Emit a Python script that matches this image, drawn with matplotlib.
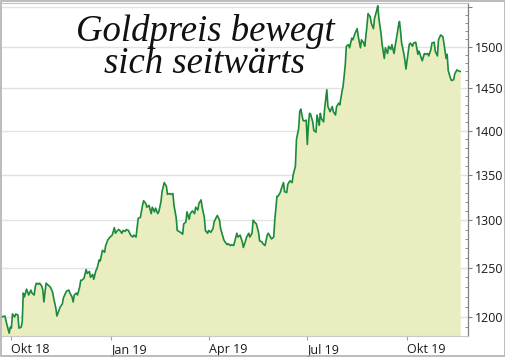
import datetime as dt

import matplotlib

matplotlib.use("Agg")
import matplotlib.dates as mdates
import matplotlib.pyplot as plt
from matplotlib.patches import Rectangle
from matplotlib.ticker import FixedLocator, FuncFormatter, NullFormatter

# Goldpreis in USD, Tage ab dem 21.09.2018
start = dt.date(2018, 9, 21)
day_offsets = [
    1, 4, 6, 8, 9, 10, 11, 13, 14, 16, 17, 19, 20, 21, 22, 24, 25, 26, 28, 29,
    31, 32, 33, 35, 36, 38, 39, 40, 42, 44, 46, 48, 49, 51, 52, 53, 55, 57, 58, 60,
    61, 63, 64, 66, 67, 68, 70, 71, 73, 74, 75, 77, 79, 80, 82, 83, 85, 86, 88, 89,
    91, 92, 94, 96, 97, 99, 101, 103, 105, 106, 108, 109,
    110, 112, 113, 115, 116, 118, 120, 122, 123, 125, 127, 129, 131, 132, 134, 135,
    137, 139, 140, 142, 143, 145, 146, 148, 149, 151, 153, 154, 156, 157, 159, 160,
    162, 163, 166, 168, 169, 171, 172, 174, 175, 177, 179, 180, 182, 183, 185, 186,
    188, 189, 191, 192, 194, 196, 197, 199, 200, 202, 203, 206,
    207, 209, 210, 212, 213, 215, 216, 218, 219, 221, 223, 224, 226, 227, 229, 230,
    232, 233, 235, 236, 238, 239, 241, 242, 244, 246, 247, 249, 250, 252, 253, 255,
    256, 258, 259, 261, 262, 264, 265, 267, 269, 270, 272, 273, 275, 276, 277, 279,
    280, 282, 283, 284, 285, 286, 288, 289, 291, 292, 294, 295, 296, 298, 299, 301,
    302, 304, 306, 307, 309, 310, 312, 313,
    315, 316, 318, 319, 321, 322, 324, 325, 327, 329, 330, 332, 333, 335, 336, 338,
    339, 341, 342, 344, 345, 347, 348, 349, 351, 352, 354, 355, 357, 358, 360, 361,
    363, 364, 366, 367, 368, 369, 370, 372, 373, 374, 375, 377, 378, 380, 381, 383,
    385, 386, 388, 389, 391, 392, 394, 395, 397, 398, 400, 401, 403, 404, 406, 408,
    409, 411, 412, 413, 415, 416, 418, 419, 421, 422, 424,
]
gold_price = [
    1200, 1201, 1192, 1184, 1190, 1189, 1203, 1200, 1203, 1202, 1189, 1190, 1195, 1224, 1220, 1228, 1225, 1222, 1227, 1224,
    1222, 1230, 1234, 1233, 1234, 1231, 1227, 1215, 1234, 1232, 1230, 1225, 1219, 1209, 1201, 1204, 1210, 1213, 1219, 1224,
    1226, 1227, 1224, 1220, 1215, 1222, 1224, 1222, 1230, 1237, 1237, 1239, 1248, 1244, 1246, 1240, 1243, 1238, 1247, 1249,
    1258, 1257, 1268, 1266, 1273, 1279, 1282, 1284, 1292, 1286, 1289, 1290,
    1289, 1286, 1289, 1288, 1290, 1289, 1284, 1282, 1284, 1282, 1302, 1303, 1316, 1321, 1318, 1314,
    1316, 1307, 1314, 1309, 1313, 1307, 1309, 1320, 1331, 1341, 1337, 1328, 1329, 1328, 1329, 1316,
    1303, 1289, 1287, 1285, 1296, 1298, 1309, 1301, 1307, 1310, 1307, 1314, 1311, 1318, 1322, 1314,
    1303, 1289, 1286, 1289, 1287, 1291, 1298, 1303, 1305, 1300, 1291, 1279,
    1277, 1274, 1275, 1273, 1274, 1273, 1277, 1286, 1282, 1284, 1277, 1271, 1278, 1282, 1286, 1282,
    1286, 1300, 1297, 1296, 1287, 1278, 1277, 1275, 1273, 1284, 1286, 1282, 1280, 1282, 1300, 1326,
    1326, 1330, 1334, 1341, 1331, 1330, 1339, 1343, 1341, 1350, 1359, 1390, 1402, 1422, 1425, 1412,
    1411, 1412, 1384, 1406, 1420, 1419, 1410, 1400, 1398, 1418, 1406, 1420, 1414, 1410, 1426, 1448,
    1428, 1422, 1428, 1422, 1418, 1428, 1432, 1430,
    1446, 1452, 1478, 1501, 1503, 1499, 1511, 1509, 1517, 1523, 1513, 1499, 1509, 1505, 1501, 1526,
    1542, 1538, 1530, 1523, 1536, 1546, 1552, 1536, 1517, 1503, 1486, 1499, 1492, 1501, 1497, 1503,
    1492, 1501, 1517, 1526, 1532, 1520, 1505, 1492, 1484, 1473, 1483, 1503, 1505, 1501, 1505, 1506,
    1491, 1495, 1487, 1483, 1492, 1491, 1492, 1489, 1497, 1505, 1506, 1495, 1489, 1509, 1515, 1513,
    1505, 1486, 1491, 1471, 1462, 1459, 1460, 1467, 1472, 1471, 1470,
]
dates = [start + dt.timedelta(days=d) for d in day_offsets]

x_tick_dates = [dt.date(2018, 10, 1), dt.date(2019, 1, 1), dt.date(2019, 4, 1),
                dt.date(2019, 7, 1), dt.date(2019, 10, 1)]
x_tick_labels = ["Okt 18", "Jan 19", "Apr 19", "Jul 19", "Okt 19"]
y_major = [1200, 1250, 1300, 1350, 1400, 1450, 1500, 1550]
y_minor = list(range(1190, 1560, 10))

line_color = "#1b8a3a"
fill_color = "#e9edc0"

fig = plt.figure(figsize=(5.06, 3.57), dpi=100)
ax = fig.add_axes([1.5 / 506, 21 / 357, 466.8 / 506, 333 / 357])

y_low = 1181.3
ax.fill_between(dates, gold_price, y_low, color=fill_color, lw=0, zorder=2)
ax.plot(dates, gold_price, color=line_color, lw=1.2, zorder=3)

ax.set_yscale("log")
ax.set_ylim(y_low, 1555.6)
ax.set_xlim(mdates.date2num(start) + 0.9, mdates.date2num(start) + 431.5)

ax.yaxis.set_major_locator(FixedLocator(y_major))
ax.yaxis.set_minor_locator(FixedLocator(y_minor))
ax.yaxis.set_major_formatter(FuncFormatter(lambda v, p: "" if v > 1520 else f"{v:.0f}"))
ax.yaxis.set_minor_formatter(NullFormatter())
ax.yaxis.tick_right()
ax.tick_params(axis="y", which="major", direction="out", length=3, width=0.8,
               color="#808080", pad=2, labelsize=9, labelcolor="#1a1a1a")
ax.tick_params(axis="y", which="minor", direction="in", length=2.5, width=0.6,
               color="#808080")

ax.set_xticks(x_tick_dates)
ax.set_xticklabels(x_tick_labels)
for lbl in ax.get_xticklabels():
    lbl.set_horizontalalignment("left")
ax.tick_params(axis="x", which="major", direction="out", length=3, width=0.8,
               color="#a0a0a0", pad=2, labelsize=9, labelcolor="#1a1a1a")
for lbl in ax.get_xticklabels() + ax.get_yticklabels():
    lbl.set_fontfamily("Open Sans")

ax.grid(axis="y", which="major", color="#e2e2e2", lw=1.0)
ax.set_axisbelow(True)

ax.spines["left"].set_visible(False)
ax.spines["top"].set_color("#c0c0c0")
ax.spines["bottom"].set_color("#c8c8c8")
ax.spines["right"].set_color("#808080")
ax.spines["right"].set_linewidth(0.9)

fig.text(205 / 506, 1 - 14 / 357, "Goldpreis bewegt\nsich seitwärts", ha="center",
         va="top", multialignment="center", linespacing=0.9,
         fontsize=26.5, family="Liberation Serif", style="italic", color="#111111")

fig.patches.append(Rectangle((0.001, 0.002), 0.997, 0.996, transform=fig.transFigure,
                             fill=False, edgecolor="#b0b0b0", lw=1.2))

fig.savefig("out.png", dpi=100)
